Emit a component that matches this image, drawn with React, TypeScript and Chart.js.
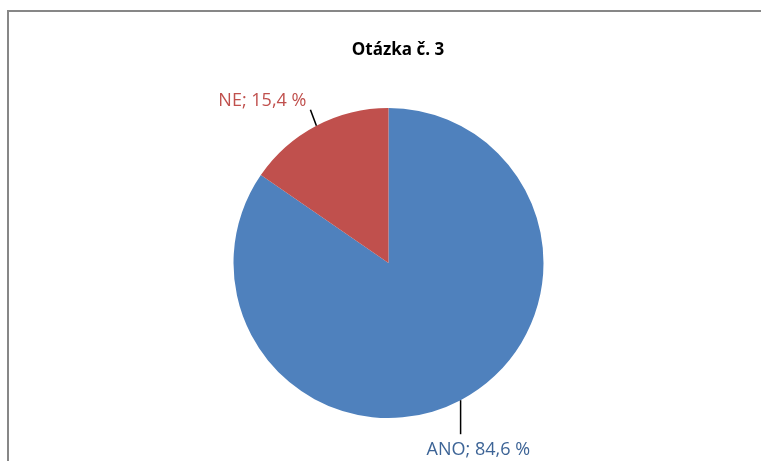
import React, { useEffect, useRef } from "react";
import { Chart, registerables } from "chart.js";

Chart.register(...registerables);

const titleText = "Otázka č. 3";
const categories = ["ANO", "NE"];
const values = [84.6, 15.4];
const sliceColors = ["#4F81BD", "#C0504D"];
const labelColors = ["#3D6496", "#C0504D"];

// label placement relative to slice edge midpoint: [lineDx, lineDy, textX offset, textY offset, align]
const labelLayout: Array<[number, number, number, number, CanvasTextAlign]> = [
  [0, 34, -34, 50, "left"],
  [-6, -16, -10, -25, "right"],
];

const fmt = (v: number) => v.toFixed(1).replace(".", ",") + " %";

const decorPlugin = {
  id: "decor",
  beforeDraw(chart: any) {
    const ctx = chart.ctx;
    ctx.save();
    ctx.fillStyle = "#ffffff";
    ctx.fillRect(0, 0, chart.width, chart.height);
    ctx.strokeStyle = "#878787";
    ctx.lineWidth = 2;
    ctx.beginPath();
    ctx.moveTo(8, chart.height);
    ctx.lineTo(8, 11);
    ctx.lineTo(chart.width, 11);
    ctx.stroke();
    ctx.restore();
  },
  afterDraw(chart: any) {
    const ctx = chart.ctx;
    ctx.save();
    ctx.fillStyle = "#000000";
    ctx.font = "bold 17px 'Open Sans'";
    ctx.textAlign = "center";
    ctx.textBaseline = "middle";
    ctx.fillText(titleText, 398, 50);

    const meta = chart.getDatasetMeta(0);
    meta.data.forEach((arc: any, i: number) => {
      const mid = (arc.startAngle + arc.endAngle) / 2;
      const r = arc.outerRadius;
      const px = arc.x + r * Math.cos(mid);
      const py = arc.y + r * Math.sin(mid);
      const [ldx, ldy, tdx, tdy, align] = labelLayout[i];
      ctx.strokeStyle = "#000000";
      ctx.lineWidth = 1.5;
      ctx.beginPath();
      ctx.moveTo(px, py);
      ctx.lineTo(px + ldx, py + ldy);
      ctx.stroke();
      ctx.fillStyle = labelColors[i];
      ctx.font = "18px 'Open Sans'";
      ctx.textAlign = align;
      ctx.textBaseline = "middle";
      ctx.fillText(categories[i] + "; " + fmt(values[i]), px + tdx, py + tdy);
    });
    ctx.restore();
  },
};

export default function App() {
  const ref = useRef<HTMLCanvasElement>(null);
  useEffect(() => {
    document.body.style.margin = "0";
    const chart = new Chart(ref.current!, {
      type: "pie",
      data: {
        labels: categories,
        datasets: [
          {
            data: values,
            backgroundColor: sliceColors,
            borderWidth: 0,
          },
        ],
      },
      options: {
        responsive: false,
        animation: false,
        layout: { padding: { top: 108, bottom: 43, left: 16, right: 0 } },
        plugins: {
          legend: { display: false },
          title: { display: false },
          tooltip: { enabled: false },
        },
      },
      plugins: [decorPlugin],
    });
    return () => chart.destroy();
  }, []);
  return (
    <div style={{ position: "absolute", left: 0, top: 0, width: 761, height: 461 }}>
      <canvas ref={ref} width={761} height={461} />
    </div>
  );
}
